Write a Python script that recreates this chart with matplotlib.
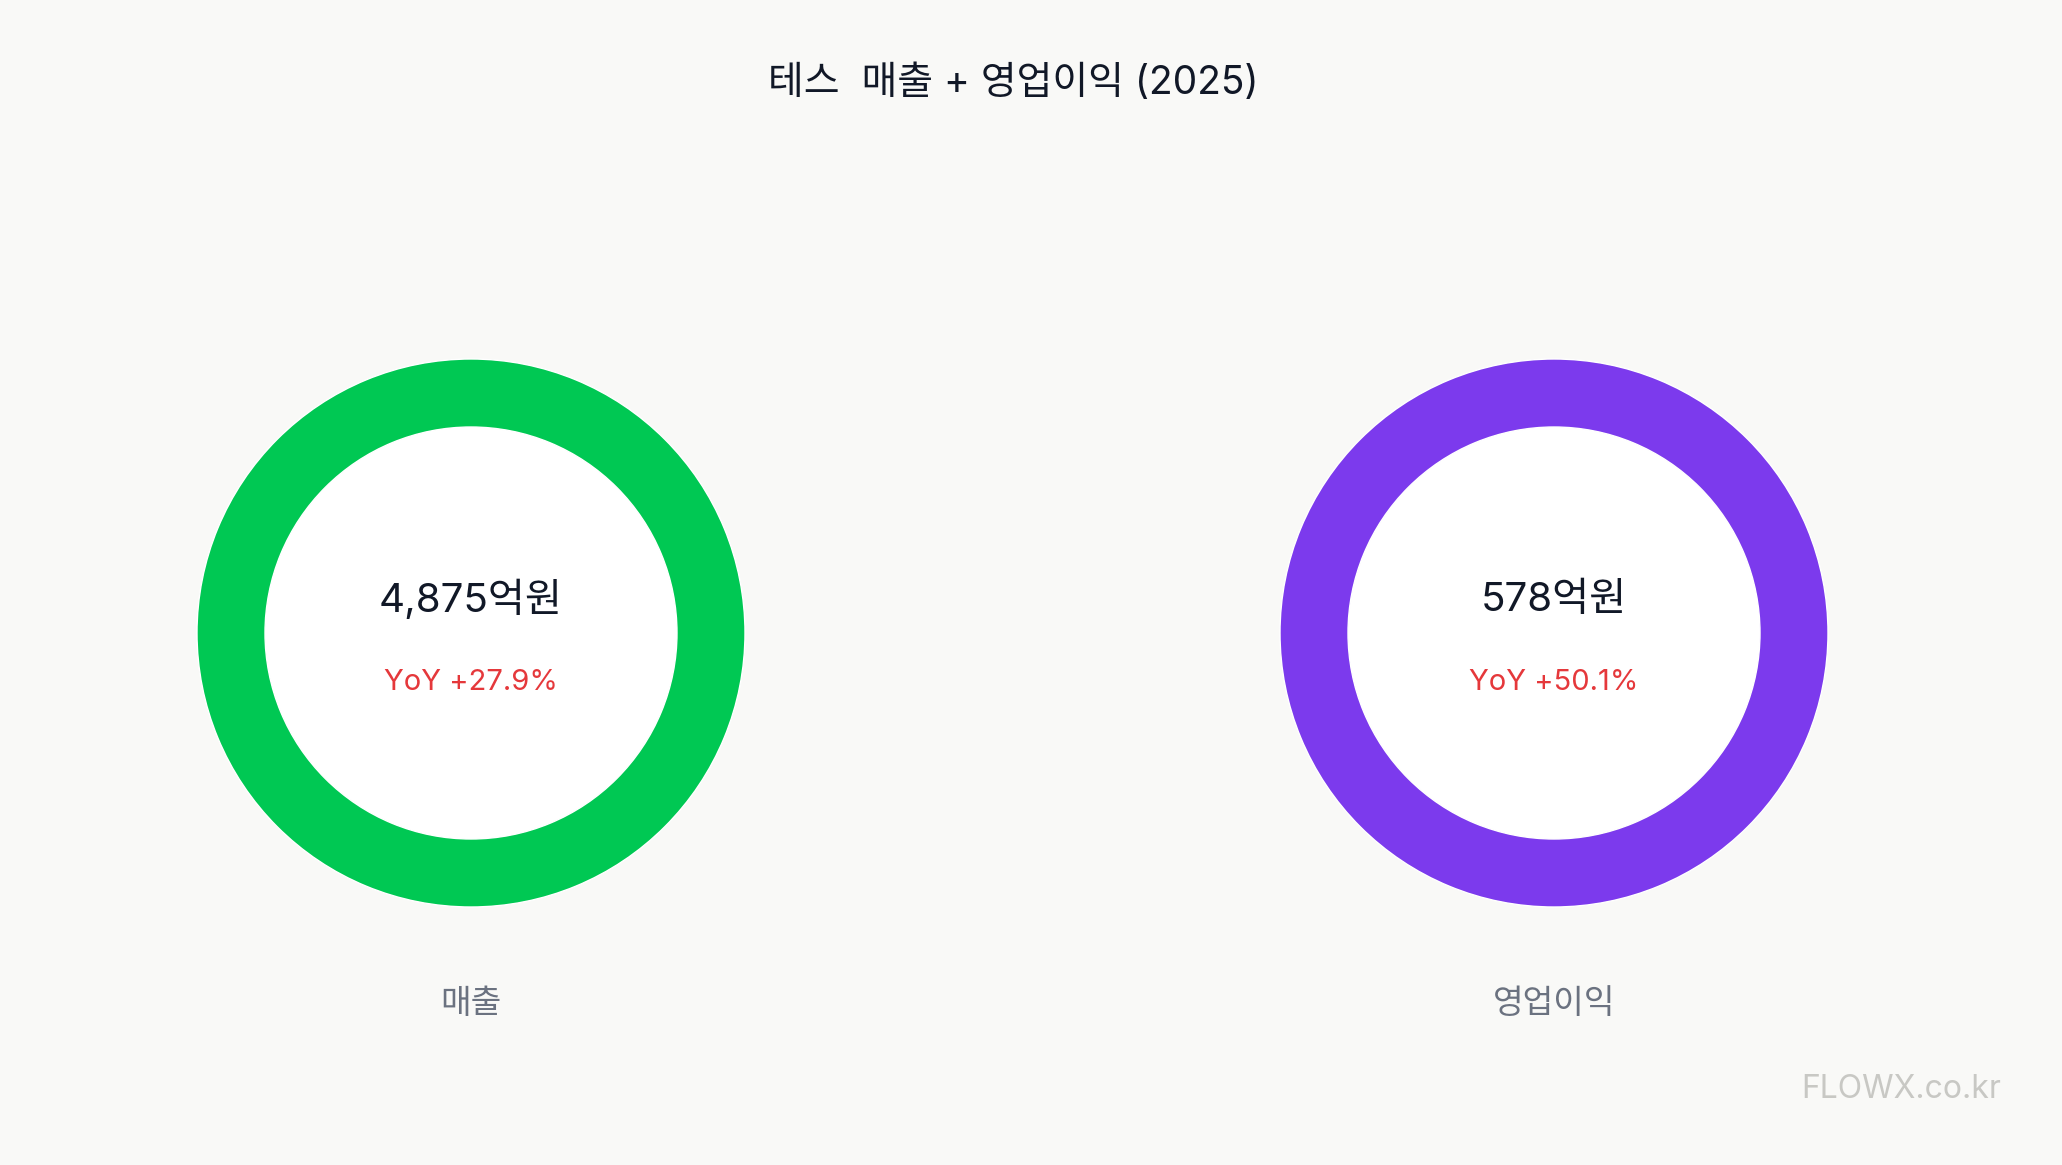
import matplotlib
matplotlib.use('Agg')
import matplotlib.pyplot as plt

plt.rcParams['font.family'] = ['Inter', 'Noto Sans CJK KR', 'DejaVu Sans']

# data
title = '테스  매출 + 영업이익 (2025)'
labels = ['매출', '영업이익']
values = [4875, 578]          # 억원
yoy = [27.9, 50.1]            # %
colors = ['#00c853', '#7c3aed']

W, H = 2062, 1165
bg = '#f9f9f7'
fig = plt.figure(figsize=(W / 100, H / 100), dpi=100, facecolor=bg)

centers_x = [471, 1554]
center_y = 633
outer_r = 274
inner_r = 206
box = 600

for cx, lab, val, y, col in zip(centers_x, labels, values, yoy, colors):
    ax = fig.add_axes([(cx - box / 2) / W, 1 - (center_y + box / 2) / H, box / W, box / H])
    ax.set_facecolor('none')
    lim = box / 2 / outer_r
    ax.pie([val], colors=[col], radius=1, startangle=90, counterclock=False,
           wedgeprops=dict(width=1 - inner_r / outer_r, edgecolor='white', linewidth=1))
    ax.add_patch(plt.Circle((0, 0), inner_r / outer_r - 0.002, color='white', zorder=0))
    ax.set_xlim(-lim, lim)
    ax.set_ylim(-lim, lim)
    ax.set_aspect('equal')
    ax.axis('off')

    fig.text(cx / W, 1 - 600 / H, f'{val:,}억원', ha='center', va='center',
             fontsize=29, color='#111827')
    fig.text(cx / W, 1 - 682 / H, f'YoY +{y}%', ha='center', va='center',
             fontsize=21, color='#e5383b')
    fig.text(cx / W, 1 - 1004 / H, lab, ha='center', va='center',
             fontsize=24, color='#6b7280')

fig.text(1013 / W, 1 - 83 / H, title, ha='center', va='center', fontsize=28, color='#111827')
fig.text(2001 / W, 1 - 1089 / H, 'FLOWX.co.kr', ha='right', va='center',
         fontsize=23, color='#c8c8c4')

plt.savefig('out.png', dpi=100, facecolor=bg)
